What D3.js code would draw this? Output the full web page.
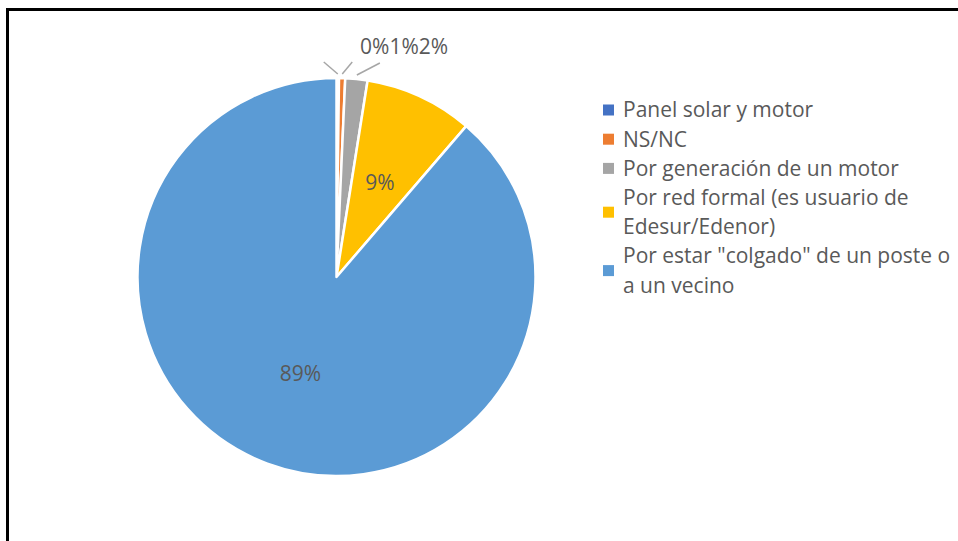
<!DOCTYPE html>
<html>
<head>
<meta charset="utf-8">
<script src="https://cdn.jsdelivr.net/npm/d3@7"></script>
<style>
  html, body { margin: 0; padding: 0; background: #fff; }
  svg { display: block; }
  text { font-family: "Open Sans", "Noto Sans", sans-serif; fill: #595959; }
</style>
</head>
<body>
<svg id="chart" width="958" height="541"></svg>
<script>
// Fuente de energía eléctrica del hogar (porcentaje de respuestas)
const categories = [
  "Panel solar y motor",
  "NS/NC",
  "Por generación de un motor",
  "Por red formal (es usuario de Edesur/Edenor)",
  "Por estar \"colgado\" de un poste o a un vecino"
];
const values = [0.2, 0.5, 1.8, 8.8, 88.7];
const colors = ["#4472C4", "#ED7D31", "#A5A5A5", "#FFC000", "#5B9BD5"];

// Layout
const W = 958, H = 541;
const cx = 336.5, cy = 277, R = 199;
const insideLabelRatio = 0.52;     // inside labels sit at this fraction of the radius
const smallSliceLimit = 5;         // slices under this % get an outside label
const leaderOffsets = [[-14, -12], [10, -12], [23, -12]];
const outsideLabelX = 360, outsideLabelY = 54;
const legendX = 603, legendTextX = 623, legendTop = 110, legendLine = 29.2, legendBox = 11;
const legendFont = 21;
const legendMaxWidth = W - legendTextX - 3;

const svg = d3.select("#chart");

// Frame
svg.append("rect")
  .attr("x", 7.5).attr("y", 9.5)
  .attr("width", W + 20).attr("height", H + 20)
  .attr("fill", "none").attr("stroke", "#000").attr("stroke-width", 3);

const total = d3.sum(values);
const pct = v => Math.round(v / total * 100) + "%";

const pie = d3.pie().sort(null).value(d => d);
const arcs = pie(values);
const arc = d3.arc().innerRadius(0).outerRadius(R);
const labelArc = d3.arc().innerRadius(R * insideLabelRatio).outerRadius(R * insideLabelRatio);
const edgeArc = d3.arc().innerRadius(R + 4).outerRadius(R + 4);

const g = svg.append("g").attr("transform", `translate(${cx},${cy})`);

g.selectAll("path.slice")
  .data(arcs)
  .join("path")
  .attr("class", "slice")
  .attr("d", arc)
  .attr("fill", (d, i) => colors[i])
  .attr("stroke", "#fff")
  .attr("stroke-width", 2.5)
  .attr("stroke-linejoin", "round");

// Inside labels for large slices
g.selectAll("text.inside")
  .data(arcs.filter(d => d.data / total * 100 >= smallSliceLimit))
  .join("text")
  .attr("class", "inside")
  .attr("transform", d => `translate(${labelArc.centroid(d)})`)
  .attr("text-anchor", "middle")
  .attr("dy", "0.35em")
  .attr("font-size", 21)
  .text(d => pct(d.data));

// Outside labels with leader lines for small slices
const small = arcs.filter(d => d.data / total * 100 < smallSliceLimit);
small.forEach((d, i) => {
  const [x0, y0] = edgeArc.centroid(d);
  const [dx, dy] = leaderOffsets[i];
  g.append("line")
    .attr("x1", x0).attr("y1", y0)
    .attr("x2", x0 + dx).attr("y2", y0 + dy)
    .attr("stroke", "#A6A6A6").attr("stroke-width", 1.5);
});
let lx = outsideLabelX;
small.forEach(d => {
  const t = svg.append("text")
    .attr("x", lx).attr("y", outsideLabelY)
    .attr("font-size", 21)
    .text(pct(d.data));
  lx += t.node().getComputedTextLength();
});

// Legend
const legend = svg.append("g");
let rowY = legendTop;
categories.forEach((name, i) => {
  const t = legend.append("text")
    .attr("x", legendTextX)
    .attr("font-size", legendFont);
  const words = name.split(" ");
  const lines = [];
  let current = [];
  const probe = legend.append("text").attr("font-size", legendFont);
  words.forEach(w => {
    const trial = current.concat(w).join(" ");
    probe.text(trial);
    if (current.length && probe.node().getComputedTextLength() > legendMaxWidth) {
      lines.push(current.join(" "));
      current = [w];
    } else {
      current.push(w);
    }
  });
  lines.push(current.join(" "));
  probe.remove();
  lines.forEach((ln, j) => {
    t.append("tspan")
      .attr("x", legendTextX)
      .attr("y", rowY + j * legendLine)
      .attr("dy", "0.35em")
      .text(ln);
  });
  const mid = rowY + (lines.length - 1) * legendLine / 2;
  legend.append("rect")
    .attr("x", legendX).attr("y", mid - legendBox / 2)
    .attr("width", legendBox).attr("height", legendBox)
    .attr("fill", colors[i]);
  rowY += lines.length * legendLine;
});
</script>
</body>
</html>
